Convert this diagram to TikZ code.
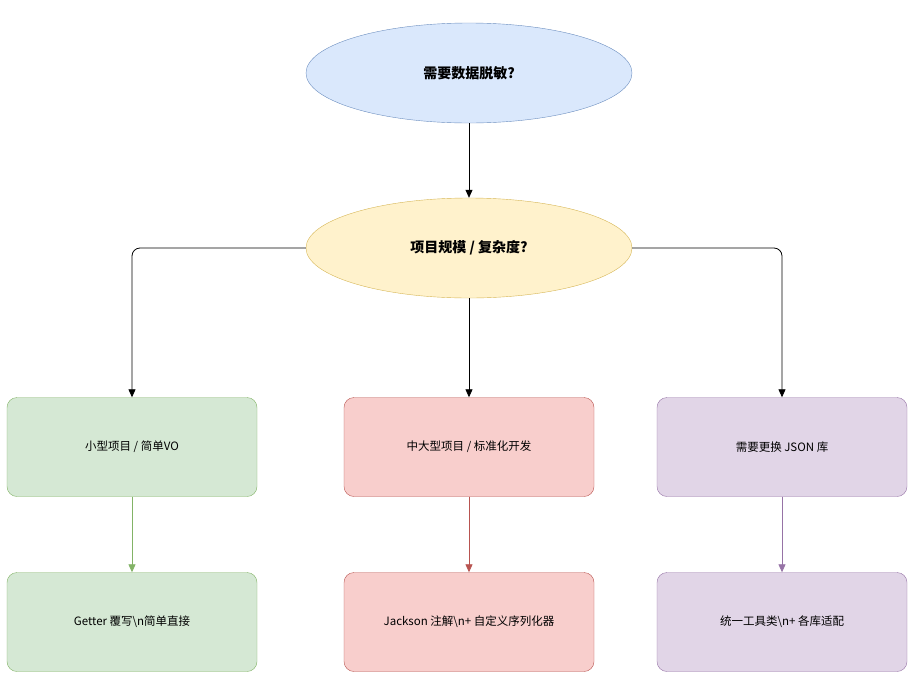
\documentclass[tikz,border=0pt]{standalone}
\usepackage{fontspec}
\setmainfont{Noto Sans CJK SC}
\usetikzlibrary{shapes.geometric,arrows.meta}
\definecolor{bF}{HTML}{DAE8FC}\definecolor{bS}{HTML}{6C8EBF}
\definecolor{yF}{HTML}{FFF2CC}\definecolor{yS}{HTML}{D6B656}
\definecolor{gF}{HTML}{D5E8D4}\definecolor{gS}{HTML}{82B366}
\definecolor{rF}{HTML}{F8CECC}\definecolor{rS}{HTML}{B85450}
\definecolor{pF}{HTML}{E1D5E7}\definecolor{pS}{HTML}{9673A6}
\begin{document}
\begin{tikzpicture}[x=1pt,y=-1pt,
 ell/.style={ellipse,draw,minimum width=326pt,minimum height=100pt,font=\bfseries\fontsize{14}{16}\selectfont},
 box/.style={rectangle,rounded corners=10pt,draw,minimum width=250pt,minimum height=99pt,font=\fontsize{11.5}{14}\selectfont},
 arr/.style={-{Triangle[length=8pt,width=7pt]},line width=0.8pt}]
\useasboundingbox (0,0) rectangle (918,691);
\node[ell,fill=bF,draw=bS] (q1) at (469,73) {需要数据脱敏?};
\node[ell,fill=yF,draw=yS] (q2) at (469,248) {项目规模 / 复杂度?};
\node[box,fill=gF,draw=gS] (a1) at (132,447) {小型项目 / 简单VO};
\node[box,fill=rF,draw=rS] (a2) at (469,447) {中大型项目 / 标准化开发};
\node[box,fill=pF,draw=pS] (a3) at (782,447) {需要更换 JSON 库};
\node[box,fill=gF,draw=gS] (b1) at (132,622) {Getter 覆写\textbackslash n简单直接};
\node[box,fill=rF,draw=rS] (b2) at (469,622) {Jackson 注解\textbackslash n+ 自定义序列化器};
\node[box,fill=pF,draw=pS] (b3) at (782,622) {统一工具类\textbackslash n+ 各库适配};
\draw[arr] (q1) -- (q2);
\draw[arr] (q2) -- (a2);
\draw[arr,rounded corners=8pt] (q2.west) -| (a1.north);
\draw[arr,rounded corners=8pt] (q2.east) -| (a3.north);
\draw[arr,draw=gS,fill=gS] (a1) -- (b1);
\draw[arr,draw=rS,fill=rS] (a2) -- (b2);
\draw[arr,draw=pS,fill=pS] (a3) -- (b3);
\end{tikzpicture}
\end{document}
